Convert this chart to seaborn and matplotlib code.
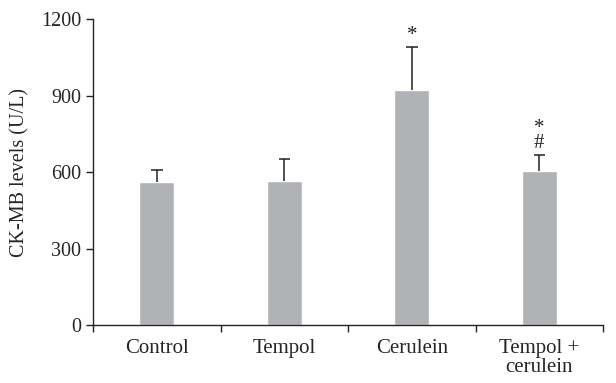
import numpy as np
import pandas as pd
import matplotlib
matplotlib.use("Agg")
import matplotlib.pyplot as plt
import seaborn as sns

# Data
groups = ["Control", "Tempol", "Cerulein", "Tempol +\ncerulein"]
means = [561, 565, 921, 604]
errors = [47, 85, 169, 63]
marks = ["", "", "*", "*\n#"]

df = pd.DataFrame({"group": groups, "level": means})

sns.set_style("ticks")
plt.rcParams["font.family"] = ["Liberation Serif", "DejaVu Serif"]

fig = plt.figure(figsize=(6.16, 3.83), dpi=100)
ax = fig.add_axes([0.151, 0.151, 0.828, 0.799])

sns.barplot(data=df, x="group", y="level", color="#b1b2b5", saturation=1,
            width=0.275, ax=ax)

# upper-only error bars with a cap on top
x = np.arange(len(groups))
tops = np.array(means) + np.array(errors)
ax.vlines(x, means, tops, color="#222222", linewidth=1.1)
ax.hlines(tops, x - 0.045, x + 0.045, color="#222222", linewidth=1.1)

for xi, t, lab in zip(x, tops, marks):
    if lab:
        ax.text(xi, t + 8, lab, ha="center", va="bottom",
                fontsize=15, linespacing=0.75, color="#222222")

ax.set_xlim(-0.5, 3.5)
ax.set_ylim(0, 1200)
ax.set_yticks([0, 300, 600, 900, 1200])
ax.set_xticks([-0.5, 0.5, 1.5, 2.5, 3.5])
ax.set_xticklabels([])
ax.set_xticks(x, minor=True)
ax.set_xticklabels(groups, minor=True, fontsize=15, linespacing=1.0)
ax.tick_params(axis="x", which="minor", length=0, pad=10)
ax.tick_params(axis="x", which="major", length=5, width=1, color="#222222")
ax.tick_params(axis="y", length=5, width=1, labelsize=14.5, color="#222222")
ax.set_xlabel("")
ax.set_ylabel("CK-MB levels (U/L)", fontsize=14.5, labelpad=8)
for s in ["left", "bottom"]:
    ax.spines[s].set_color("#222222")
    ax.spines[s].set_linewidth(1)
sns.despine(ax=ax)

fig.savefig("out.png", dpi=100)
